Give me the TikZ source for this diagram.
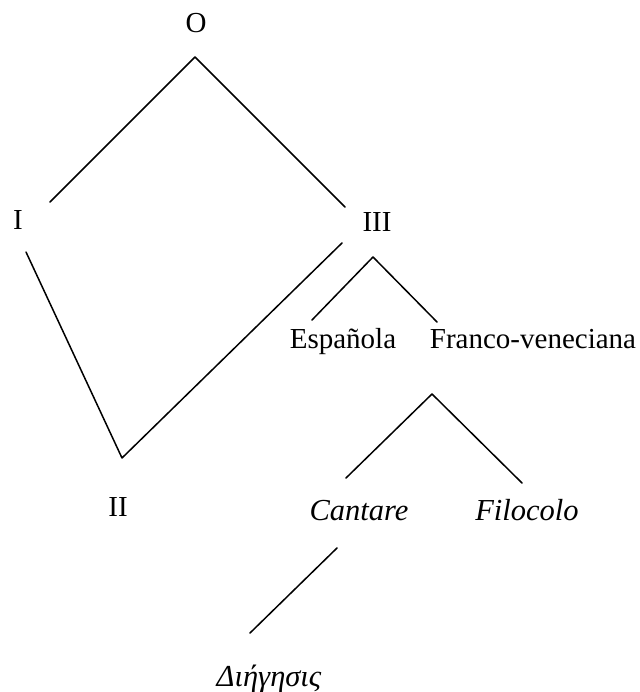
\documentclass[tikz,border=0pt]{standalone}
\usepackage{fontspec}
\setmainfont{Liberation Serif}
\begin{document}
\begin{tikzpicture}[x=1pt,y=-1pt,
  lbl/.style={inner sep=0pt,anchor=base,font=\fontsize{29}{32}\selectfont},
  ilbl/.style={lbl,font=\fontsize{30.5}{32}\selectfont\itshape},
  edge/.style={line width=1.5pt,line cap=round,line join=round}]
\useasboundingbox (0,0) rectangle (639,692);
% labels
\node[lbl] (O) at (196,33) {O};
\node[lbl] (I) at (18,230) {I};
\node[lbl] (III) at (377,232) {III};
\node[lbl] (Esp) at (343,348) {Española};
\node[lbl] (Fra) at (533,348) {Franco-veneciana};
\node[lbl] (II) at (118,516) {II};
\node[ilbl] (Can) at (359,520) {Cantare};
\node[ilbl] (Fil) at (527,520) {Filocolo};
\node[ilbl] (Dia) at (269,686) {Διήγησις};
% connector end points
\coordinate (Otop) at (195,57);
\coordinate (Iup) at (50,202);
\coordinate (IIIup) at (345,207);
\coordinate (Idown) at (26,252);
\coordinate (IIv) at (122,458);
\coordinate (IIIdown) at (342,243);
\coordinate (IIIapex) at (373,257);
\coordinate (Espup) at (312,320);
\coordinate (Fraup) at (437,322);
\coordinate (Fapex) at (432,394);
\coordinate (Canup) at (346,478);
\coordinate (Filup) at (522,483);
\coordinate (Candown) at (337,548);
\coordinate (Diaup) at (250,633);
% connectors
\draw[edge] (Iup) -- (Otop) -- (IIIup);
\draw[edge] (Idown) -- (IIv) -- (IIIdown);
\draw[edge] (Espup) -- (IIIapex) -- (Fraup);
\draw[edge] (Canup) -- (Fapex) -- (Filup);
\draw[edge] (Candown) -- (Diaup);
\end{tikzpicture}
\end{document}
